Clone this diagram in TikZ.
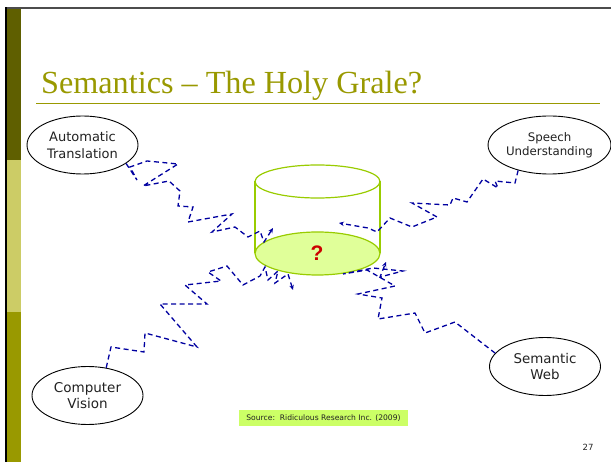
\documentclass[tikz,border=0pt]{standalone}
\usepackage{fontspec}
\setmainfont{Liberation Serif}
\newfontfamily\dejavu{DejaVu Sans}
\newfontfamily\libsans{Liberation Sans}
\usetikzlibrary{shapes.geometric,arrows.meta}
\definecolor{olivedark}{HTML}{5F5F00}
\definecolor{olivelight}{HTML}{CCCC66}
\definecolor{olivemid}{HTML}{999900}
\definecolor{titlecol}{HTML}{999900}
\definecolor{cylline}{HTML}{99CC00}
\definecolor{cylfill}{HTML}{E0FF99}
\definecolor{zzcol}{HTML}{0000A0}
\definecolor{srcfill}{HTML}{CCFF66}
\definecolor{txtcol}{HTML}{222222}
\definecolor{qred}{HTML}{CC0000}
\tikzset{
  topic/.style={draw=black, line width=0.9pt, ellipse, inner sep=0pt,
    minimum width=111pt, minimum height=58pt, align=center, text=txtcol},
  zz/.style={draw=zzcol, line width=1.3pt, dash pattern=on 5pt off 3.5pt,
    -{Stealth[length=5pt,width=4.5pt]}},
  cyl/.style={draw=cylline, line width=1.2pt}
}
\begin{document}
\begin{tikzpicture}[x=1pt,y=-1pt]
\useasboundingbox (0,0) rectangle (611,462);
% frame
\fill[white] (0,0) rectangle (611,462);
\fill[olivedark] (7.3,9) rectangle (20.7,160);
\fill[olivelight] (7.3,160) rectangle (20.7,312);
\fill[olivemid] (7.3,312) rectangle (20.7,462);
\fill[black!70] (5,6.7) rectangle (611,9);
\fill[black] (5,6.7) rectangle (7.3,462);
% title
\node[anchor=base west, inner sep=0pt, text=titlecol,
  font=\fontsize{32.2}{36}\selectfont] (title) at (41,93.3) {Semantics – The Holy Grale?};
\draw[titlecol, line width=1.2pt] (36,103.5) -- (600,103.5);
% cylinder
\fill[cylfill] (317.5,253.5) ellipse [x radius=62.5, y radius=21.5];
\draw[cyl] (317.5,253.5) ellipse [x radius=62.5, y radius=21.5];
\draw[cyl] (255,181.5) -- (255,253.5);
\draw[cyl] (380,181.5) -- (380,253.5);
\draw[cyl] (317.5,181.5) ellipse [x radius=62.5, y radius=16.5];
\node[text=qred, font=\libsans\bfseries\fontsize{21}{21}\selectfont] (q) at (317,253) {?};
% topics
\node[topic, font=\dejavu\fontsize{13}{16.5}\selectfont] (at) at (82.5,145) {Automatic\\Translation};
\node[topic, font=\dejavu\fontsize{11.8}{13.5}\selectfont] (su) at (549.5,145) {Speech\\Understanding};
\node[topic, font=\dejavu\fontsize{13.5}{16}\selectfont] (cv) at (87.5,395.5) {Computer\\Vision};
\node[topic, font=\dejavu\fontsize{13.4}{15.5}\selectfont] (sw) at (545,366.5) {Semantic\\Web};
% end points
\coordinate (c1) at (273,228);
\coordinate (c2) at (293,290);
\coordinate (c3) at (339,223);
\coordinate (c4) at (386,262);
% zigzag connectors
\draw[zz] (at.-23) -- (137,180) -- (130,167) -- (147,161) -- (178,164) -- (143,186)
  -- (169,181) -- (180,191) -- (178,206) -- (193,207) -- (188,222) -- (232,214)
  -- (212,232) -- (235,227) -- (248,237) -- (260,231) -- (264,242) -- (c1);
\draw[zz] (cv.56) -- (111,347) -- (144,352) -- (145,333) -- (197,347) -- (160,304)
  -- (207,304) -- (185,285) -- (221,281) -- (208,272) -- (227,266) -- (243,285)
  -- (260,276) -- (265,267) -- (268,280) -- (278,271) -- (275,283) -- (288,274) -- (c2);
\draw[zz] (su.-141) -- (515,183) -- (495,181) -- (498,188) -- (483,179) -- (467,202)
  -- (453,198) -- (450,205) -- (412,203) -- (437,217) -- (412,227) -- (390,218)
  -- (377,232) -- (368,228) -- (c3);
\draw[zz] (sw.165) -- (455,322) -- (425,333) -- (415,313) -- (378,319) -- (382,298)
  -- (358,294) -- (395,286) -- (367,270) -- (343,274) -- (373,268) -- (403,271)
  -- (380,277) -- (c4);
% source
\node[fill=srcfill, inner sep=0pt, minimum width=169pt, minimum height=16pt,
  font=\dejavu\fontsize{7.6}{9}\selectfont, text=txtcol] (src) at (323.5,418)
  {Source:\ \ Ridiculous Research Inc. (2009)};
\node[font=\dejavu\fontsize{8.5}{10}\selectfont, text=txtcol] (pg) at (588,447) {27};
\end{tikzpicture}
\end{document}
